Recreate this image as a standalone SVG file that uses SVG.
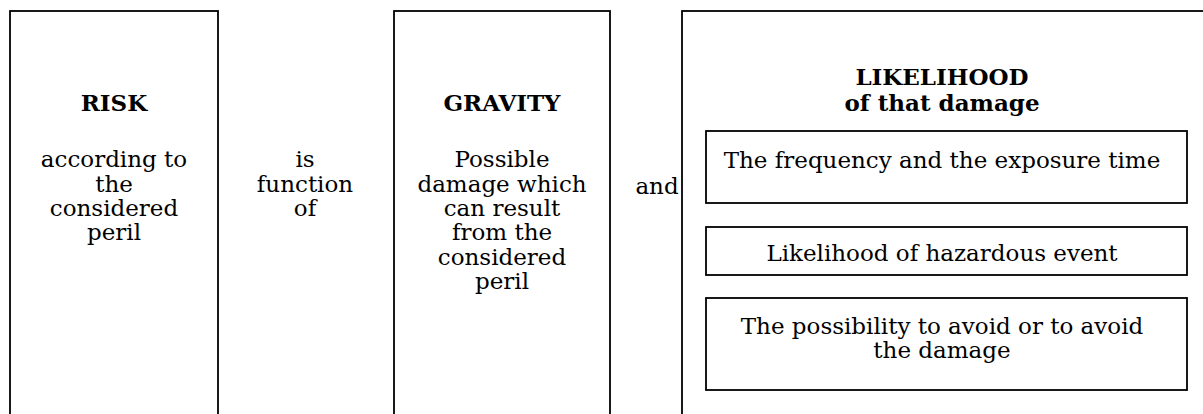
<svg xmlns="http://www.w3.org/2000/svg" width="1203" height="414" viewBox="0 0 1203 414">
<style>
.box{fill:#fff;stroke:#000;stroke-width:1.8}
.t{font-family:"DejaVu Serif","Liberation Serif",serif;font-size:23px;fill:#000;text-anchor:middle}
.b{font-weight:bold}
</style>
<rect width="1203" height="414" fill="#fff"/>
<g id="risk">
<rect class="box" x="10" y="11" width="208" height="420"/>
<text class="t b" x="114" y="111">RISK</text>
<text class="t" x="114" y="167">according to</text>
<text class="t" x="114" y="192">the</text>
<text class="t" x="114" y="216">considered</text>
<text class="t" x="114" y="240">peril</text>
</g>
<g id="function">
<text class="t" x="305" y="167">is</text>
<text class="t" x="305" y="192">function</text>
<text class="t" x="305" y="216">of</text>
</g>
<g id="gravity">
<rect class="box" x="394" y="11" width="216" height="420"/>
<text class="t b" x="502" y="111">GRAVITY</text>
<text class="t" x="502" y="167">Possible</text>
<text class="t" x="502" y="192">damage which</text>
<text class="t" x="502" y="216">can result</text>
<text class="t" x="502" y="240">from the</text>
<text class="t" x="502" y="265">considered</text>
<text class="t" x="502" y="289">peril</text>
</g>
<g id="and">
<text class="t" x="657" y="194">and</text>
</g>
<g id="likelihood">
<rect class="box" x="682" y="11" width="540" height="420"/>
<text class="t b" x="942" y="85">LIKELIHOOD</text>
<text class="t b" x="942" y="111">of that damage</text>
</g>
<g id="frequency">
<rect class="box" x="706" y="131" width="481" height="72"/>
<text class="t" x="942" y="168">The frequency and the exposure time</text>
</g>
<g id="hazard">
<rect class="box" x="706" y="227" width="481" height="48"/>
<text class="t" x="942" y="261">Likelihood of hazardous event</text>
</g>
<g id="avoid">
<rect class="box" x="706" y="298" width="481" height="92"/>
<text class="t" x="942" y="334">The possibility to avoid or to avoid</text>
<text class="t" x="942" y="358">the damage</text>
</g>
<g id="connectors"/>
</svg>
